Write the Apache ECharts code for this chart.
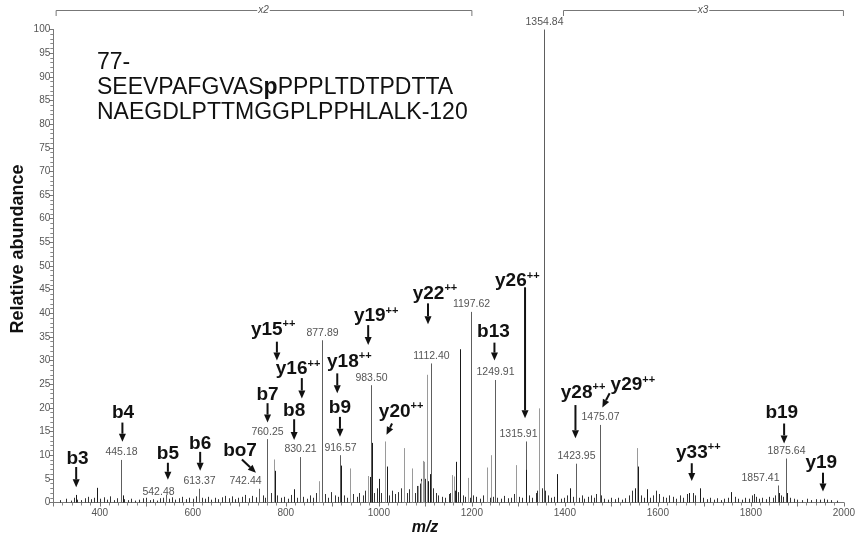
<!DOCTYPE html>
<html><head><meta charset="utf-8">
<script src="https://cdn.jsdelivr.net/npm/echarts@6/dist/echarts.min.js"></script>
<style>html,body{margin:0;padding:0;background:#fff}#c{width:858px;height:544px}</style>
</head><body><div id="c"></div>
<script>
// ---------------- DATA ----------------
const yTickValues = [0,5,10,15,20,25,30,35,40,45,50,55,60,65,70,75,80,85,90,95,100];
const xTickLabels = [400,600,800,1000,1200,1400,1600,1800,2000];

// labelled peaks (m/z, relative abundance)
const labeledMz    = [445.18, 542.48, 613.37, 742.44, 760.25, 830.21, 877.89, 916.57, 983.50, 1112.40, 1197.62, 1249.91, 1315.91, 1354.84, 1423.95, 1475.07, 1857.41, 1875.64];
const labeledAbund = [9.0,    1.6,    2.9,    2.9,    13.4,   9.6,    34.3,   10.0,   24.8,   29.4,    40.3,    25.9,    12.9,    100,     8.2,     16.4,    3.6,     9.3];

// other clear peaks drawn in grey
const grayMz    = [774, 871, 939, 977, 1013, 1055, 1071, 1094, 1098, 1103.5, 1157, 1161, 1191, 1232, 1241, 1296, 1344, 1555, 1090, 1085];
const grayAbund = [9.1, 4.5, 7.2, 5.6, 12.9, 11.5, 7.2,  8.8,  8.6,  27.0,   5.8,  5.5,  5.2,  7.4,  10.0, 7.9,  19.9, 11.5, 4.5,  3.5];

// other clear peaks drawn in black
const blackMz    = [349, 393, 450, 776, 818, 919, 982, 984.5, 1000, 1018, 1166, 1175, 1316.5, 1384, 1412, 1551, 1557, 1577, 1668, 1690, 1757, 1860, 1878, 1109, 1106];
const blackAbund = [1.6, 3.1, 1.5, 6.7, 2.8, 7.8, 5.4, 12.6,  5.0,  7.6,  8.6,  32.4, 6.9,    6.0,  3.0,  3.0,  7.6,  2.8,  2.0,  3.0,  2.2,  2.0,  2.0,  6.0,  4.5];

// baseline noise peaks
const noiseMz = [315,328,337,345,352,360,368,375,382,388,400,408,415,421,430,437,452,460,468,476,485,492,500,507,515,522,530,536,548,555,562,570,577,585,592,600,607,620,627,633,640,648,655,662,670,677,684,690,697,705,712,720,728,735,750,755,768,782,790,797,805,812,824,838,845,852,858,865,884,890,897,905,912,925,932,945,952,958,965,970,990,995,1005,1022,1028,1035,1042,1048,1060,1065,1078,1083,1088,1091,1100,1116,1122,1128,1135,1142,1150,1154,1163,1170,1180,1186,1195,1203,1210,1218,1225,1238,1245,1255,1262,1270,1278,1285,1291,1302,1308,1322,1330,1337,1340,1350,1358,1363,1370,1377,1391,1398,1405,1418,1430,1436,1442,1450,1457,1463,1468,1478,1485,1492,1500,1507,1515,1522,1530,1538,1545,1563,1570,1583,1590,1597,1603,1610,1617,1624,1632,1640,1647,1655,1662,1675,1680,1697,1705,1712,1720,1727,1735,1742,1750,1765,1772,1780,1787,1795,1802,1807,1812,1818,1825,1832,1840,1847,1852,1865,1870,1885,1892,1900,1910,1920,1930,1940,1948,1958,1963,1972,1985];
const noiseAbund = [0.5,0.8,0.4,1.0,0.6,0.5,0.9,1.2,0.7,1.0,0.8,1.1,0.6,1.3,0.5,0.9,0.7,0.5,0.8,0.4,0.6,0.9,1.0,0.5,0.7,0.4,0.9,1.0,0.8,1.1,0.6,0.9,1.2,0.7,1.0,0.8,1.3,1.0,0.8,1.2,0.6,1.0,0.7,1.1,1.4,0.9,1.3,0.7,1.0,1.2,1.6,0.9,1.4,1.1,1.5,1.0,2.0,1.5,1.0,1.2,0.8,1.6,1.0,1.2,0.8,1.5,1.0,2.0,1.8,1.0,2.2,1.5,1.2,1.5,1.0,1.8,1.2,2.0,1.5,2.5,2.0,3.0,2.0,1.5,2.5,1.8,2.2,3.0,2.0,2.8,2.0,3.5,4.0,5.0,5.0,3.0,2.0,1.5,1.2,1.0,1.8,2.0,2.5,2.2,1.5,1.2,1.0,1.5,1.2,0.8,1.5,1.0,1.2,1.0,0.8,1.4,0.9,1.0,1.8,1.2,1.0,1.5,1.0,2.0,2.5,3.0,2.5,1.5,1.0,1.2,0.8,1.0,1.5,1.2,1.0,1.5,0.8,1.2,1.5,1.0,1.8,1.5,0.8,0.6,1.0,0.7,1.0,0.6,0.9,1.5,2.5,1.5,1.0,1.0,1.5,2.5,1.8,1.2,1.0,1.5,1.2,0.8,1.5,1.0,1.8,2.0,1.5,1.0,0.7,1.0,0.6,0.9,0.5,0.8,1.0,1.2,0.8,0.6,1.0,0.8,1.5,1.8,1.2,0.8,1.0,0.7,1.2,1.0,1.5,1.5,1.2,1.0,0.8,0.6,0.5,0.8,0.5,0.7,0.6,0.8,0.6,0.5,0.4];

// ion annotations
const ionNames = ['b3','b4','b5','b6','bo7','b7','b8','b9','y20++','y15++','y16++','y18++','y19++','y22++','y26++','b13','y28++','y29++','b19','y33++','y19'];

// scale-factor brackets
const zoomLabels = ['x2','x3'];
const zoomFrom = [305, 1396];
const zoomTo   = [1199, 1998];

const peptideLines = ['77-', 'SEEVPAFGVAS|p|PPPLTDTPDTTA', 'NAEGDLPTTMGGPLPPHLALK-120'];

// ---------------- LAYOUT (annotation placement, data units) ----------------
const ionLayout = [
 {tx:352,   ty:9.35, x0:349.2, y0:7.5,  x1:349.2, y1:3.2},
 {tx:450,   ty:18.9, x0:448.6, y0:16.9, x1:448.6, y1:12.85},
 {tx:546.4, ty:10.25,x0:546.4, y0:8.4,  x1:546.4, y1:4.8},
 {tx:615.8, ty:12.5, x0:615.8, y0:10.7, x1:615.8, y1:6.7},
 {tx:701.5, ty:10.9, x0:705.6, y0:9.1,  x1:735.8, y1:6.3},
 {tx:760.7, ty:22.7, x0:760.7, y0:21.0, x1:760.7, y1:16.9},
 {tx:817.9, ty:19.4, x0:817.9, y0:17.6, x1:817.9, y1:13.2},
 {tx:916.4, ty:20.1, x0:916.4, y0:18.1, x1:916.4, y1:13.9},
 {tx:1000,  ty:19.2, x0:1028.5,y0:16.7, x1:1016.5,y1:14.3},
 {tx:724.9, ty:36.5, x0:780.8, y0:34.0, x1:780.8, y1:30.0},
 {tx:778.4, ty:28.2, x0:834.4, y0:26.3, x1:834.4, y1:22.0},
 {tx:888.6, ty:29.8, x0:910.6, y0:27.3, x1:910.6, y1:23.1},
 {tx:946.4, ty:39.4, x0:977.1, y0:37.5, x1:977.1, y1:33.3},
 {tx:1072.9,ty:44.2, x0:1105.7,y0:42.1, x1:1105.7,y1:37.7},
 {tx:1249.9,ty:46.8, x0:1314.4,y0:45.5, x1:1314.4,y1:17.8},
 {tx:1246.4,ty:36.1, x0:1248.6,y0:33.8, x1:1248.6,y1:30.0},
 {tx:1391.3,ty:23.2, x0:1422.8,y0:20.6, x1:1422.8,y1:13.6},
 {tx:1498.4,ty:24.8, x0:1496.3,y0:23.1, x1:1480.7,y1:20.1},
 {tx:1866.4,ty:18.9, x0:1871.5,y0:16.7, x1:1871.5,y1:12.5},
 {tx:1639.1,ty:10.5, x0:1672.9,y0:8.3,  x1:1672.9,y1:4.55},
 {tx:1951.4,ty:8.3,  x0:1955.1,y0:6.3,  x1:1955.1,y1:2.3}
];
const labelShift = {'542.48':[-8,5], '742.44':[-14,0], '1315.91':[-8,0], '1857.41':[-18,0]};

const FONT = 'Liberation Sans, Arial, Helvetica, sans-serif';
const chart = echarts.init(document.getElementById('c'), null, {renderer:'canvas'});

function zip(a,b){ return a.map((v,i)=>[v,b[i]]); }

function stick(color){
  return function(params, api){
    const top = api.coord([api.value(0), api.value(1)]);
    const base = api.coord([api.value(0), 0]);
    const x = Math.round(top[0]) + 0.5;
    return {type:'line', shape:{x1:x,y1:base[1],x2:x,y2:top[1]}, style:{stroke:color,lineWidth:1}};
  };
}
function labeledStick(params, api){
  const mz = api.value(0), h = api.value(1);
  const top = api.coord([mz,h]); const base = api.coord([mz,0]);
  const x = Math.round(top[0]) + 0.5;
  const key = mz.toFixed(2);
  const sh = labelShift[key] || [0,0];
  return {type:'group', children:[
    {type:'line', shape:{x1:x,y1:base[1],x2:x,y2:top[1]}, style:{stroke:'#5e5e5e',lineWidth:1}},
    {type:'text', x:x+sh[0], y:top[1]-2+sh[1], style:{text:key, fill:'#555', fontSize:10.5, fontFamily:FONT, align:'center', verticalAlign:'bottom'}}
  ]};
}
function ionRender(params, api){
  const i = params.dataIndex;
  const L = ionLayout[i]; const name = ionNames[i];
  const pp = name.endsWith('++');
  const base = pp ? name.slice(0,-2) : name;
  const tp = api.coord([L.tx, L.ty]);
  const p0 = api.coord([L.x0, L.y0]); const p1 = api.coord([L.x1, L.y1]);
  const dx = p1[0]-p0[0], dy = p1[1]-p0[1]; const len = Math.hypot(dx,dy);
  const ux = dx/len, uy = dy/len; const head = 8, hw = 3.5;
  const bx = p1[0]-ux*head, by = p1[1]-uy*head;
  return {type:'group', children:[
    {type:'line', shape:{x1:p0[0],y1:p0[1],x2:bx,y2:by}, style:{stroke:'#111',lineWidth:2}},
    {type:'polygon', shape:{points:[[p1[0],p1[1]],[bx-uy*hw, by+ux*hw],[bx+uy*hw, by-ux*hw]]}, style:{fill:'#111'}},
    {type:'text', x:tp[0], y:tp[1], style:{
      text: pp ? '{a|'+base+'}{s|++}' : '{a|'+base+'}',
      align: pp ? 'left' : 'center', verticalAlign:'middle',
      rich:{ a:{fontSize:19, fontWeight:'bold', fontFamily:FONT, fill:'#111', lineHeight:22},
             s:{fontSize:11, fontWeight:'bold', fontFamily:FONT, fill:'#111', verticalAlign:'top', lineHeight:22, padding:[0,0,8,0]} }
    }}
  ]};
}

const option = {
  animation:false,
  backgroundColor:'#fff',
  grid:{left:53.3, right:11.3, top:29.5, bottom:41.5},
  xAxis:{type:'value', min:300, max:2000, interval:100,
    axisLine:{lineStyle:{color:'#777', width:1}},
    axisTick:{show:true, length:4, lineStyle:{color:'#777'}},
    minorTick:{show:true, splitNumber:5, length:3, lineStyle:{color:'#888'}},
    splitLine:{show:false},
    axisLabel:{color:'#555', fontSize:10, fontFamily:FONT, margin:6,
      formatter: v => xTickLabels.indexOf(v) >= 0 ? String(v) : ''}},
  yAxis:{type:'value', min:0, max:100, interval:5,
    axisLine:{show:true, lineStyle:{color:'#777', width:1}},
    axisTick:{show:true, length:4, lineStyle:{color:'#777'}},
    minorTick:{show:true, splitNumber:5, length:3, lineStyle:{color:'#888'}},
    splitLine:{show:false},
    axisLabel:{color:'#555', fontSize:10, fontFamily:FONT, margin:3,
      formatter: v => yTickValues.indexOf(v) >= 0 ? String(v) : ''}},
  series:[
    {type:'custom', name:'noise', renderItem:stick('#333'), data:zip(noiseMz,noiseAbund), encode:{x:0,y:1}, silent:true},
    {type:'custom', name:'grey', renderItem:stick('#9a9a9a'), data:zip(grayMz,grayAbund), encode:{x:0,y:1}, silent:true},
    {type:'custom', name:'labelled', renderItem:labeledStick, data:zip(labeledMz,labeledAbund), encode:{x:0,y:1}, silent:true, clip:false},
    {type:'custom', name:'black', renderItem:stick('#1a1a1a'), data:zip(blackMz,blackAbund), encode:{x:0,y:1}, silent:true},
    {type:'custom', name:'ions', renderItem:ionRender, data:ionLayout.map(l=>[l.tx,l.ty]), encode:{x:0,y:1}, silent:true, clip:false, z:5}
  ]
};
chart.setOption(option);

// brackets, titles, peptide text
const g = [];
zoomLabels.forEach((lab,i)=>{
  const a = chart.convertToPixel({gridIndex:0},[zoomFrom[i],100]);
  const b = chart.convertToPixel({gridIndex:0},[zoomTo[i],100]);
  const y = 10, y2 = 16;
  g.push({type:'polyline', shape:{points:[[a[0]+0.5,y2],[a[0]+0.5,y+0.5],[b[0]+0.5,y+0.5],[b[0]+0.5,y2]]}, style:{stroke:'#777', lineWidth:1, fill:null}});
  g.push({type:'text', x:(a[0]+b[0])/2, y:y, style:{text:lab, fill:'#555', fontSize:10, fontStyle:'italic', fontFamily:FONT, align:'center', verticalAlign:'middle', backgroundColor:'#fff', padding:[0,1]}});
});
g.push({type:'text', x:18, y:249, rotation:Math.PI/2, style:{text:'Relative abundance', fill:'#111', fontSize:18, fontWeight:'bold', fontFamily:FONT, align:'center', verticalAlign:'middle'}});
g.push({type:'text', x:425, y:528, style:{text:'m/z', fill:'#111', fontSize:16, fontWeight:'bold', fontStyle:'italic', fontFamily:FONT, align:'center', verticalAlign:'middle'}});
const pepY = [63, 88, 113];
peptideLines.forEach((ln,i)=>{
  const parts = ln.split('|');
  let txt;
  if (parts.length === 3) txt = '{n|'+parts[0]+'}{b|'+parts[1]+'}{n|'+parts[2]+'}';
  else txt = '{n|'+ln+'}';
  g.push({type:'text', x:97, y:pepY[i], style:{text:txt, align:'left', verticalAlign:'middle',
    rich:{n:{fontSize:23, fontFamily:FONT, fill:'#111'}, b:{fontSize:23, fontWeight:'bold', fontFamily:FONT, fill:'#111'}}}});
});
chart.setOption({graphic:g});
</script></body></html>
